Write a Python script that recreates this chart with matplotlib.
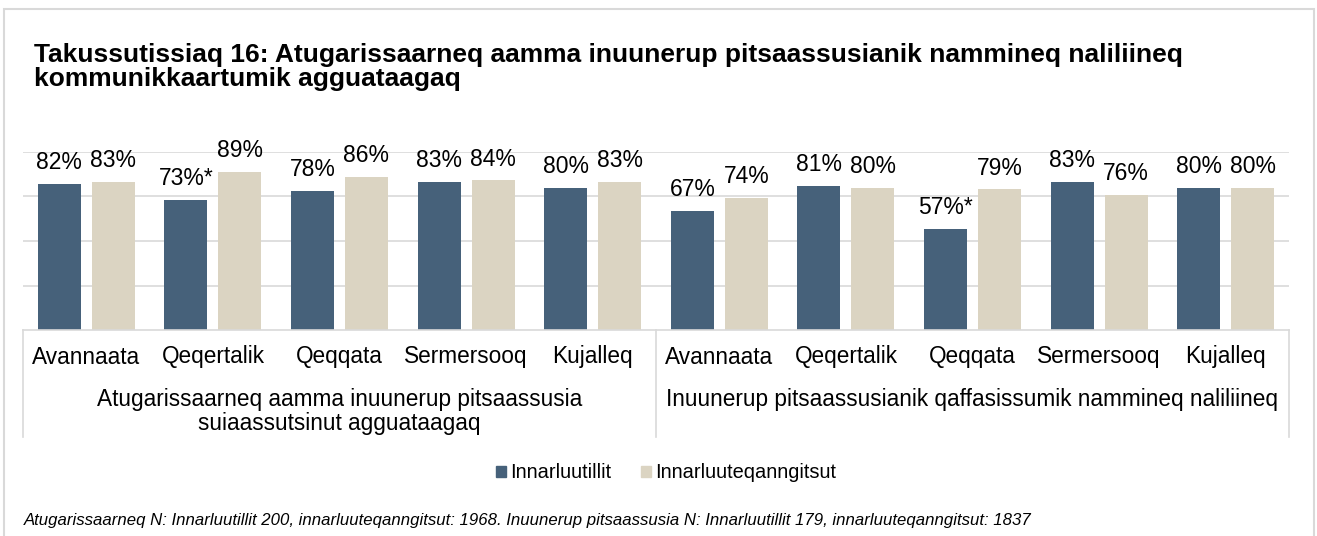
import matplotlib.pyplot as plt
from matplotlib.patches import Rectangle, Patch
from matplotlib.lines import Line2D
from matplotlib.transforms import blended_transform_factory

plt.rcParams['font.family'] = ['Liberation Sans', 'DejaVu Sans']

# 数据
regions = ["Avannaata", "Qeqertalik", "Qeqqata", "Sermersooq", "Kujalleq"]
group_titles = ["Atugarissaarneq aamma inuunerup pitsaassusia\nsuiaassutsinut agguataagaq",
                "Inuunerup pitsaassusianik qaffasissumik nammineq naliliineq"]
disabled = [82, 73, 78, 83, 80, 67, 81, 57, 83, 80]
not_disabled = [83, 89, 86, 84, 83, 74, 80, 79, 76, 80]
disabled_labels = ["82%", "73%*", "78%", "83%", "80%", "67%", "81%", "57%*", "83%", "80%"]
not_disabled_labels = ["83%", "89%", "86%", "84%", "83%", "74%", "80%", "79%", "76%", "80%"]
series_names = ["Innarluutillit", "Innarluuteqanngitsut"]
title = ("Takussutissiaq 16: Atugarissaarneq aamma inuunerup pitsaassusianik nammineq naliliineq\n"
         "kommunikkaartumik agguataagaq")
footnote = ("Atugarissaarneq N: Innarluutillit 200, innarluuteqanngitsut: 1968. "
            "Inuunerup pitsaassusia N: Innarluutillit 179, innarluuteqanngitsut: 1837")

blue = '#46617a'
beige = '#dbd4c2'
grid_c = '#d9d9d9'

W, H = 1317, 536
fig = plt.figure(figsize=(W / 100, H / 100), dpi=100)

def fx(px):
    return px / W

def fy(py):
    return 1 - py / H

# 外框
fig.patches.append(Rectangle((fx(4), fy(600)), fx(1314) - fx(4), fy(9) - fy(600),
                             transform=fig.transFigure, fill=False, edgecolor='#d9d9d9', lw=1.5))

ax = fig.add_axes([fx(23), fy(330), fx(1289) - fx(23), fy(152) - fy(330)])

x = list(range(len(disabled)))
w = 0.34
off = 0.213
ax.bar([i - off for i in x], disabled, width=w, color=blue)
ax.bar([i + off for i in x], not_disabled, width=w, color=beige)

for i in x:
    ax.text(i - off, disabled[i] + 5.5, disabled_labels[i], ha='center', va='bottom', fontsize=16.5)
    ax.text(i + off, not_disabled[i] + 5.5, not_disabled_labels[i], ha='center', va='bottom', fontsize=16.5)

ax.set_xlim(-0.5, 9.5)
ax.set_ylim(0, 100)
for y in [25, 50, 75, 100]:
    ax.axhline(y, color=grid_c, lw=1.2, zorder=0)
for s in ['top', 'left', 'right']:
    ax.spines[s].set_visible(False)
ax.spines['bottom'].set_color(grid_c)
ax.spines['bottom'].set_linewidth(1.2)
ax.set_xticks([])
ax.set_yticks([])

# 分类轴标签
trans = blended_transform_factory(ax.transData, fig.transFigure)
for i in x:
    ax.text(i, fy(357), regions[i % 5], transform=trans, ha='center', va='center', fontsize=16.3)
ax.text(2, fy(388), group_titles[0], transform=trans, ha='center', va='top',
        fontsize=16.3, linespacing=1.05)
ax.text(7, fy(388), group_titles[1], transform=trans, ha='center', va='top', fontsize=16.3)

for xp in [23, 656, 1289]:
    fig.add_artist(Line2D([fx(xp), fx(xp)], [fy(330), fy(437)], transform=fig.transFigure,
                          color=grid_c, lw=1.2))

# 标题
fig.text(fx(34), fy(67), title, ha='left', va='center', fontsize=19, fontweight='bold',
         linespacing=1.0)

# 图例
handles = [Patch(color=blue), Patch(color=beige)]
fig.legend(handles, series_names, loc='center', bbox_to_anchor=(fx(666), fy(473)), ncol=2,
           frameon=False, fontsize=14.4, handlelength=0.5, handleheight=0.5,
           handletextpad=0.2, columnspacing=1.5)

fig.text(fx(24), fy(521), footnote, ha='left', va='center', fontsize=12.1, style='italic')

fig.savefig('out.png', dpi=100)
